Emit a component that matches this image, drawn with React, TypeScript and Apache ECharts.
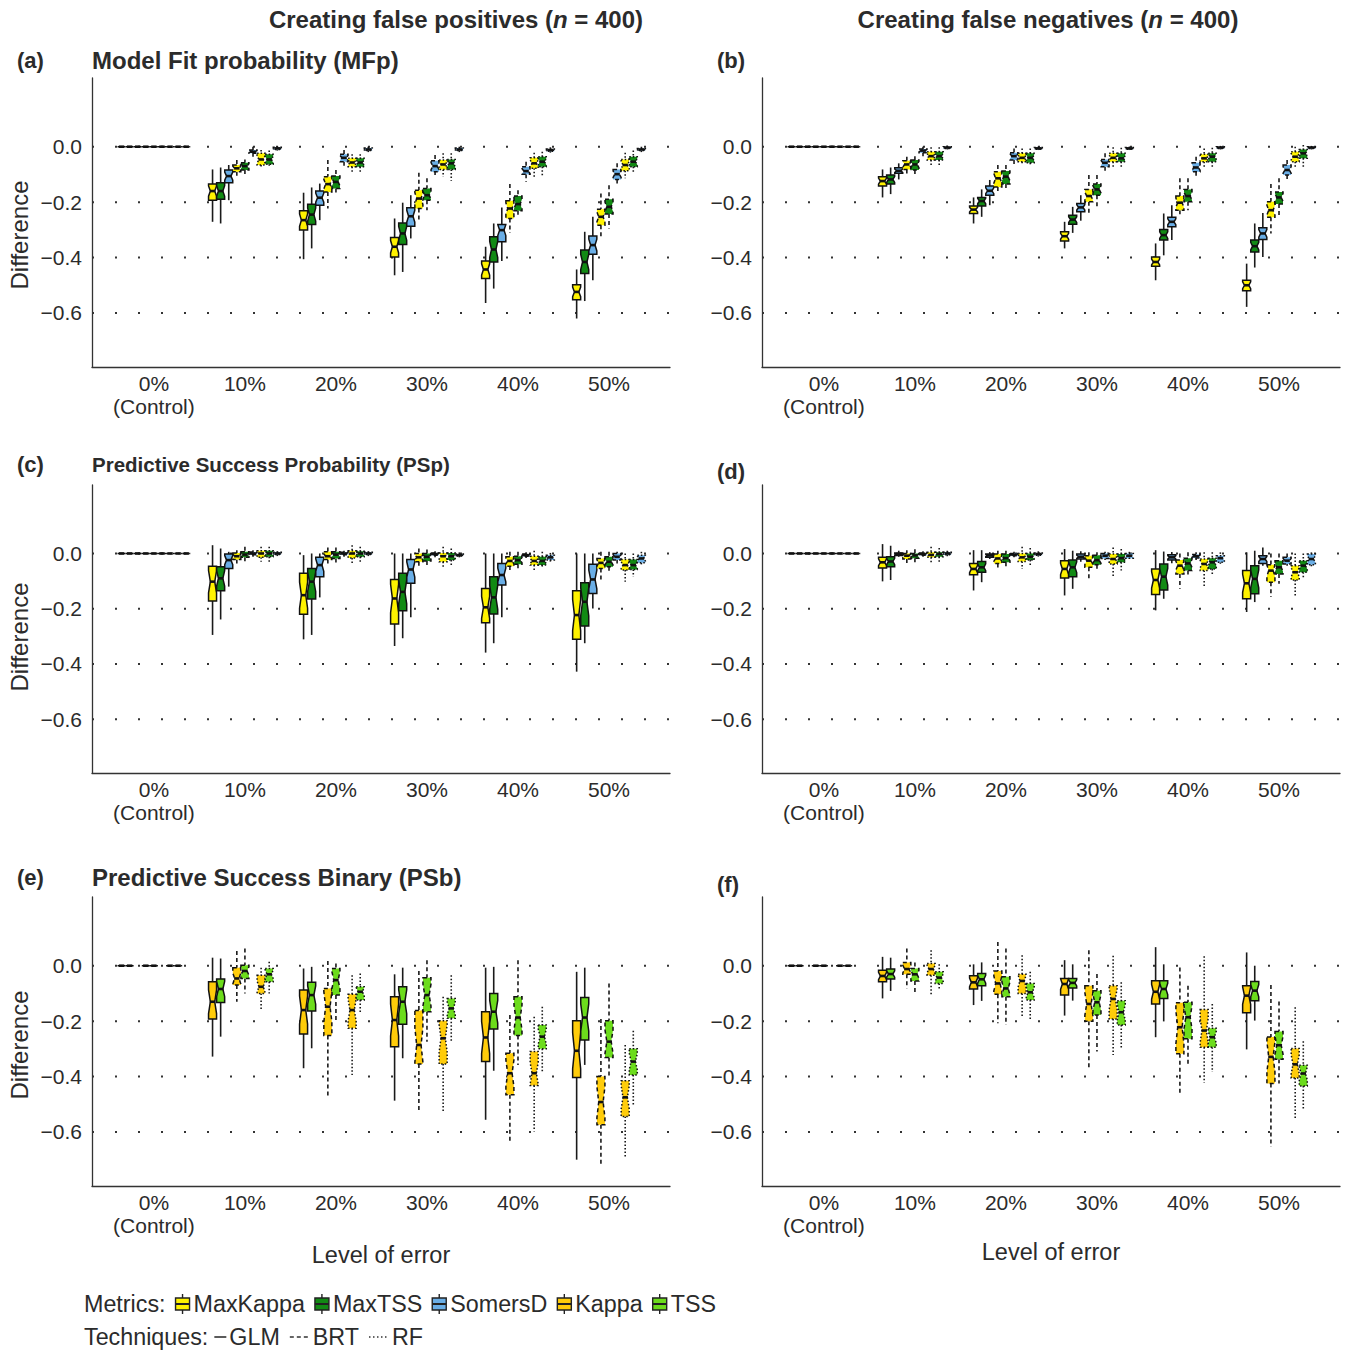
import React, { useEffect, useRef } from "react";
import * as echarts from "echarts";

// ---------- categories / labels ----------
const GROUPS = ["0%\n(Control)", "10%", "20%", "30%", "40%", "50%"];
const METRICS = ["MaxKappa", "MaxTSS", "SomersD", "Kappa", "TSS"];
const TECHNIQUES = ["GLM", "BRT", "RF"];
const Y_TICKS = [0, -0.2, -0.4, -0.6];

// ---------- data: levels 10%..50%, each [lowWhisker, q1, median, q3, highWhisker] ----------
// (a) MFp, false positives
const A_GLM_MK = [[-0.271, -0.193, -0.16, -0.135, -0.082], [-0.406, -0.301, -0.265, -0.231, -0.166], [-0.464, -0.398, -0.361, -0.328, -0.259], [-0.564, -0.476, -0.443, -0.412, -0.361], [-0.62, -0.552, -0.524, -0.498, -0.443]];
const A_GLM_MT = [[-0.277, -0.19, -0.16, -0.13, -0.075], [-0.367, -0.281, -0.245, -0.208, -0.147], [-0.452, -0.353, -0.313, -0.275, -0.202], [-0.512, -0.416, -0.371, -0.325, -0.277], [-0.557, -0.458, -0.416, -0.373, -0.307]];
const A_GLM_SD = [[-0.193, -0.13, -0.106, -0.084, -0.066], [-0.265, -0.211, -0.184, -0.16, -0.133], [-0.331, -0.287, -0.251, -0.22, -0.175], [-0.412, -0.343, -0.301, -0.281, -0.219], [-0.482, -0.388, -0.355, -0.322, -0.253]];
const A_BRT_MK = [[-0.108, -0.09, -0.078, -0.066, -0.048], [-0.223, -0.163, -0.135, -0.108, -0.048], [-0.271, -0.223, -0.187, -0.157, -0.094], [-0.311, -0.259, -0.223, -0.195, -0.135], [-0.331, -0.283, -0.253, -0.226, -0.169]];
const A_BRT_MT = [[-0.102, -0.084, -0.07, -0.058, -0.046], [-0.169, -0.151, -0.127, -0.106, -0.084], [-0.229, -0.193, -0.175, -0.151, -0.114], [-0.251, -0.231, -0.207, -0.178, -0.157], [-0.295, -0.243, -0.217, -0.19, -0.139]];
const A_BRT_SD = [[-0.036, -0.024, -0.018, -0.012, 0.0], [-0.072, -0.054, -0.04, -0.027, -0.012], [-0.102, -0.09, -0.07, -0.051, -0.03], [-0.127, -0.099, -0.088, -0.072, -0.054], [-0.135, -0.118, -0.099, -0.082, -0.06]];
const A_RF_MK = [[-0.078, -0.066, -0.046, -0.024, -0.012], [-0.096, -0.072, -0.057, -0.042, -0.027], [-0.108, -0.082, -0.064, -0.048, -0.024], [-0.108, -0.078, -0.06, -0.04, -0.022], [-0.114, -0.087, -0.066, -0.046, -0.022]];
const A_RF_MT = [[-0.075, -0.063, -0.046, -0.027, -0.014], [-0.096, -0.072, -0.057, -0.042, -0.027], [-0.123, -0.082, -0.06, -0.046, -0.024], [-0.108, -0.072, -0.054, -0.036, -0.018], [-0.096, -0.072, -0.054, -0.036, -0.014]];
const A_RF_SD = [[-0.014, -0.01, -0.006, -0.002, 0.0], [-0.02, -0.014, -0.01, -0.005, 0.0], [-0.02, -0.014, -0.01, -0.005, 0.0], [-0.022, -0.016, -0.012, -0.008, -0.002], [-0.02, -0.014, -0.01, -0.006, 0.0]];

// (b) MFp, false negatives
const B_GLM_MK = [[-0.183, -0.142, -0.124, -0.108, -0.082], [-0.277, -0.241, -0.227, -0.214, -0.183], [-0.367, -0.34, -0.323, -0.307, -0.271], [-0.482, -0.431, -0.416, -0.398, -0.349], [-0.578, -0.52, -0.5, -0.482, -0.422]];
const B_GLM_MT = [[-0.171, -0.135, -0.118, -0.102, -0.075], [-0.253, -0.214, -0.196, -0.183, -0.154], [-0.311, -0.28, -0.263, -0.247, -0.217], [-0.392, -0.337, -0.319, -0.299, -0.241], [-0.436, -0.38, -0.359, -0.337, -0.277]];
const B_GLM_SD = [[-0.118, -0.096, -0.087, -0.076, -0.06], [-0.211, -0.175, -0.159, -0.142, -0.12], [-0.267, -0.235, -0.219, -0.205, -0.175], [-0.337, -0.289, -0.271, -0.255, -0.211], [-0.398, -0.335, -0.313, -0.292, -0.239]];
const B_BRT_MK = [[-0.099, -0.082, -0.064, -0.051, -0.036], [-0.169, -0.145, -0.114, -0.09, -0.066], [-0.243, -0.199, -0.178, -0.154, -0.102], [-0.253, -0.229, -0.202, -0.178, -0.114], [-0.313, -0.255, -0.229, -0.199, -0.135]];
const B_BRT_MT = [[-0.099, -0.084, -0.064, -0.048, -0.034], [-0.157, -0.135, -0.108, -0.088, -0.066], [-0.226, -0.175, -0.154, -0.135, -0.102], [-0.229, -0.199, -0.178, -0.154, -0.114], [-0.251, -0.207, -0.183, -0.163, -0.114]];
const B_BRT_SD = [[-0.034, -0.022, -0.014, -0.008, 0.0], [-0.066, -0.048, -0.034, -0.022, -0.006], [-0.087, -0.072, -0.058, -0.046, -0.024], [-0.108, -0.09, -0.075, -0.058, -0.036], [-0.12, -0.102, -0.084, -0.066, -0.048]];
const B_RF_MK = [[-0.066, -0.048, -0.034, -0.018, -0.002], [-0.066, -0.054, -0.04, -0.024, -0.006], [-0.078, -0.054, -0.04, -0.024, -0.002], [-0.078, -0.054, -0.042, -0.027, -0.006], [-0.078, -0.054, -0.036, -0.018, 0.0]];
const B_RF_MT = [[-0.066, -0.048, -0.034, -0.018, -0.002], [-0.066, -0.058, -0.04, -0.024, -0.006], [-0.075, -0.054, -0.042, -0.024, -0.004], [-0.072, -0.054, -0.036, -0.024, -0.004], [-0.072, -0.042, -0.024, -0.01, 0.006]];
const B_RF_SD = [[-0.01, -0.006, -0.003, 0.0, 0.004], [-0.012, -0.009, -0.006, -0.003, 0.0], [-0.012, -0.009, -0.006, -0.003, 0.0], [-0.01, -0.006, -0.003, 0.0, 0.003], [-0.01, -0.006, -0.003, 0.0, 0.003]];

// (c) PSp, false positives
const C_GLM_MK = [[-0.295, -0.172, -0.102, -0.046, 0.03], [-0.311, -0.22, -0.151, -0.072, -0.006], [-0.335, -0.255, -0.163, -0.094, 0.0], [-0.359, -0.251, -0.195, -0.127, 0.0], [-0.428, -0.311, -0.223, -0.135, 0.0]];
const C_GLM_MT = [[-0.239, -0.135, -0.09, -0.048, 0.018], [-0.295, -0.165, -0.102, -0.054, 0.0], [-0.307, -0.207, -0.139, -0.072, 0.0], [-0.325, -0.219, -0.159, -0.084, 0.0], [-0.325, -0.263, -0.175, -0.106, 0.0]];
const C_GLM_SD = [[-0.12, -0.054, -0.024, -0.002, 0.006], [-0.159, -0.084, -0.042, -0.014, 0.0], [-0.231, -0.108, -0.058, -0.022, 0.0], [-0.231, -0.114, -0.078, -0.036, 0.0], [-0.199, -0.145, -0.094, -0.039, 0.0]];
const C_BRT_MK = [[-0.036, -0.022, -0.01, 0.002, 0.012], [-0.042, -0.022, -0.01, 0.006, 0.022], [-0.048, -0.03, -0.014, 0.0, 0.018], [-0.06, -0.046, -0.027, -0.012, 0.006], [-0.094, -0.054, -0.034, -0.018, 0.006]];
const C_BRT_MT = [[-0.03, -0.014, -0.004, 0.006, 0.024], [-0.034, -0.018, -0.004, 0.006, 0.022], [-0.048, -0.027, -0.012, 0.0, 0.014], [-0.054, -0.039, -0.024, -0.01, 0.006], [-0.072, -0.048, -0.03, -0.012, 0.006]];
const C_BRT_SD = [[-0.012, -0.005, 0.0, 0.005, 0.012], [-0.012, -0.005, 0.0, 0.004, 0.01], [-0.014, -0.006, -0.002, 0.002, 0.008], [-0.016, -0.01, -0.006, -0.002, 0.004], [-0.036, -0.024, -0.012, 0.0, 0.006]];
const C_RF_MK = [[-0.03, -0.014, 0.0, 0.01, 0.024], [-0.036, -0.016, 0.0, 0.01, 0.03], [-0.048, -0.03, -0.01, 0.002, 0.024], [-0.06, -0.042, -0.027, -0.01, 0.01], [-0.102, -0.06, -0.042, -0.022, 0.0]];
const C_RF_MT = [[-0.03, -0.012, 0.0, 0.01, 0.024], [-0.03, -0.012, 0.0, 0.008, 0.024], [-0.042, -0.024, -0.01, 0.002, 0.018], [-0.054, -0.042, -0.027, -0.012, 0.006], [-0.084, -0.058, -0.042, -0.022, 0.0]];
const C_RF_SD = [[-0.01, -0.004, 0.0, 0.004, 0.008], [-0.01, -0.004, 0.0, 0.004, 0.008], [-0.014, -0.009, -0.006, -0.002, 0.004], [-0.03, -0.024, -0.014, -0.006, 0.002], [-0.042, -0.034, -0.018, -0.006, 0.006]];

// (d) PSp, false negatives
const D_GLM_MK = [[-0.101, -0.053, -0.032, -0.014, 0.034], [-0.134, -0.077, -0.056, -0.036, 0.012], [-0.152, -0.089, -0.056, -0.026, 0.016], [-0.206, -0.149, -0.096, -0.056, 0.012], [-0.212, -0.164, -0.108, -0.062, 0.004]];
const D_GLM_MT = [[-0.096, -0.048, -0.029, -0.012, 0.028], [-0.104, -0.068, -0.05, -0.029, 0.012], [-0.128, -0.084, -0.05, -0.024, 0.01], [-0.164, -0.132, -0.084, -0.038, 0.007], [-0.176, -0.146, -0.092, -0.044, 0.01]];
const D_GLM_SD = [[-0.012, -0.007, -0.002, 0.002, 0.01], [-0.02, -0.014, -0.007, -0.002, 0.005], [-0.03, -0.02, -0.012, -0.002, 0.008], [-0.035, -0.024, -0.014, -0.005, 0.005], [-0.044, -0.036, -0.02, -0.008, 0.022]];
const D_BRT_MK = [[-0.036, -0.02, -0.008, 0.0, 0.012], [-0.056, -0.036, -0.018, -0.002, 0.01], [-0.098, -0.05, -0.026, -0.008, 0.004], [-0.128, -0.074, -0.044, -0.024, 0.0], [-0.158, -0.104, -0.062, -0.041, 0.0]];
const D_BRT_MT = [[-0.032, -0.017, -0.007, 0.0, 0.015], [-0.05, -0.032, -0.017, -0.002, 0.01], [-0.062, -0.041, -0.024, -0.006, 0.004], [-0.086, -0.062, -0.036, -0.017, 0.004], [-0.11, -0.074, -0.05, -0.026, 0.0]];
const D_BRT_SD = [[-0.012, -0.006, -0.002, 0.002, 0.008], [-0.014, -0.008, -0.004, 0.0, 0.006], [-0.024, -0.018, -0.008, 0.0, 0.006], [-0.024, -0.016, -0.01, -0.004, 0.004], [-0.044, -0.038, -0.026, -0.014, 0.0]];
const D_RF_MK = [[-0.038, -0.014, -0.005, 0.004, 0.024], [-0.056, -0.029, -0.014, 0.0, 0.024], [-0.086, -0.038, -0.02, -0.002, 0.022], [-0.122, -0.062, -0.038, -0.02, 0.004], [-0.158, -0.096, -0.068, -0.044, 0.0]];
const D_RF_MT = [[-0.034, -0.012, -0.002, 0.004, 0.02], [-0.048, -0.024, -0.012, 0.0, 0.02], [-0.062, -0.032, -0.017, -0.002, 0.016], [-0.08, -0.056, -0.032, -0.017, 0.004], [-0.092, -0.068, -0.044, -0.026, 0.0]];
const D_RF_SD = [[-0.01, -0.005, 0.0, 0.004, 0.01], [-0.012, -0.006, -0.002, 0.002, 0.008], [-0.02, -0.017, -0.008, 0.0, 0.006], [-0.04, -0.032, -0.017, -0.008, 0.004], [-0.05, -0.041, -0.02, -0.002, 0.004]];

// (e) PSb, false positives (Kappa, TSS)
const E_GLM_K = [[-0.328, -0.192, -0.13, -0.058, 0.029], [-0.37, -0.246, -0.16, -0.088, -0.01], [-0.487, -0.292, -0.196, -0.112, -0.031], [-0.556, -0.346, -0.259, -0.166, -0.007], [-0.7, -0.403, -0.307, -0.199, -0.022]];
const E_GLM_T = [[-0.256, -0.133, -0.084, -0.048, 0.026], [-0.298, -0.163, -0.106, -0.06, -0.004], [-0.334, -0.211, -0.13, -0.076, -0.007], [-0.379, -0.228, -0.166, -0.1, -0.004], [-0.358, -0.268, -0.187, -0.115, -0.007]];
const E_BRT_K = [[-0.13, -0.07, -0.046, -0.007, 0.053], [-0.472, -0.252, -0.148, -0.082, 0.017], [-0.526, -0.355, -0.286, -0.162, -0.019], [-0.64, -0.466, -0.388, -0.316, -0.178], [-0.718, -0.574, -0.492, -0.4, -0.192]];
const E_BRT_T = [[-0.1, -0.046, -0.019, 0.002, 0.062], [-0.202, -0.106, -0.052, -0.01, 0.008], [-0.274, -0.166, -0.106, -0.043, 0.02], [-0.358, -0.252, -0.187, -0.112, 0.02], [-0.406, -0.331, -0.274, -0.199, -0.064]];
const E_RF_K = [[-0.163, -0.1, -0.076, -0.034, -0.007], [-0.394, -0.226, -0.16, -0.103, -0.034], [-0.526, -0.355, -0.262, -0.199, -0.112], [-0.598, -0.432, -0.388, -0.31, -0.184], [-0.694, -0.544, -0.475, -0.415, -0.286]];
const E_RF_T = [[-0.1, -0.058, -0.031, -0.01, 0.014], [-0.172, -0.124, -0.094, -0.076, -0.028], [-0.274, -0.19, -0.154, -0.118, -0.034], [-0.388, -0.3, -0.256, -0.214, -0.148], [-0.502, -0.394, -0.346, -0.3, -0.235]];

// (f) PSb, false negatives (Kappa, TSS)
const F_GLM_K = [[-0.118, -0.058, -0.037, -0.016, 0.032], [-0.142, -0.084, -0.06, -0.036, 0.005], [-0.18, -0.106, -0.066, -0.046, 0.02], [-0.258, -0.138, -0.094, -0.054, 0.067], [-0.302, -0.17, -0.108, -0.072, 0.048]];
const F_GLM_T = [[-0.091, -0.048, -0.03, -0.012, 0.029], [-0.127, -0.072, -0.049, -0.028, 0.012], [-0.126, -0.08, -0.062, -0.046, 0.005], [-0.201, -0.118, -0.084, -0.054, 0.005], [-0.198, -0.126, -0.09, -0.057, 0.0]];
const F_BRT_K = [[-0.082, -0.031, -0.012, 0.012, 0.062], [-0.208, -0.103, -0.064, -0.019, 0.086], [-0.372, -0.2, -0.138, -0.072, 0.056], [-0.468, -0.318, -0.222, -0.134, -0.006], [-0.653, -0.425, -0.329, -0.257, -0.07]];
const F_BRT_T = [[-0.1, -0.055, -0.031, -0.01, 0.012], [-0.214, -0.112, -0.082, -0.04, 0.062], [-0.31, -0.178, -0.132, -0.09, -0.03], [-0.354, -0.264, -0.186, -0.132, -0.072], [-0.425, -0.338, -0.287, -0.237, -0.129]];
const F_RF_K = [[-0.103, -0.034, -0.012, 0.008, 0.056], [-0.184, -0.1, -0.055, -0.031, 0.038], [-0.322, -0.192, -0.12, -0.072, 0.036], [-0.422, -0.294, -0.234, -0.158, 0.034], [-0.557, -0.405, -0.356, -0.299, -0.15]];
const F_RF_T = [[-0.084, -0.064, -0.043, -0.022, 0.005], [-0.192, -0.124, -0.096, -0.064, -0.022], [-0.302, -0.214, -0.168, -0.126, -0.06], [-0.384, -0.294, -0.258, -0.226, -0.138], [-0.521, -0.434, -0.389, -0.359, -0.273]];

const CONTROL = [0, 0, 0, 0, 0];

// slot order within a level: GLM(m1,m2,m3), BRT(m1,m2,m3), RF(m1,m2,m3)
const PANELS = [
  { label: "(a)", title: "Model Fit probability (MFp)", binary: false, slots: [A_GLM_MK, A_GLM_MT, A_GLM_SD, A_BRT_MK, A_BRT_MT, A_BRT_SD, A_RF_MK, A_RF_MT, A_RF_SD] },
  { label: "(b)", title: "", binary: false, slots: [B_GLM_MK, B_GLM_MT, B_GLM_SD, B_BRT_MK, B_BRT_MT, B_BRT_SD, B_RF_MK, B_RF_MT, B_RF_SD] },
  { label: "(c)", title: "Predictive Success Probability (PSp)", binary: false, slots: [C_GLM_MK, C_GLM_MT, C_GLM_SD, C_BRT_MK, C_BRT_MT, C_BRT_SD, C_RF_MK, C_RF_MT, C_RF_SD] },
  { label: "(d)", title: "", binary: false, slots: [D_GLM_MK, D_GLM_MT, D_GLM_SD, D_BRT_MK, D_BRT_MT, D_BRT_SD, D_RF_MK, D_RF_MT, D_RF_SD] },
  { label: "(e)", title: "Predictive Success Binary (PSb)", binary: true, slots: [E_GLM_K, E_GLM_T, null, E_BRT_K, E_BRT_T, null, E_RF_K, E_RF_T, null] },
  { label: "(f)", title: "", binary: true, slots: [F_GLM_K, F_GLM_T, null, F_BRT_K, F_BRT_T, null, F_RF_K, F_RF_T, null] },
];

// ---------- styling / layout ----------
const FONT = '"Liberation Sans", Arial, Helvetica, sans-serif';
const COLORS = ["#FFF200", "#128A14", "#6AAEE6", "#FFCC0A", "#6CDC1C"];
const DASHES: any[] = ["solid", [4, 3], [1.5, 2]];
const COL_X = [92, 762];
const ROW_Y = [78, 485, 897];
const PLOT_W = 578;
const PLOT_H = [289, 288, 289];
const X_MIN = 0.32;
const X_MAX = 6.67;
const Y_MIN = -0.795;
const Y_MAX = 0.248;
const SLOT = 0.0889;
const BOX_W = 0.088;
const NOTCH = 0.32;
const TEXT_COLOR = "#2b2b2b";
const LEGEND_FONT = `23.3px ${FONT}`;

function renderBox(_params: any, api: any) {
  const x = api.value(0);
  const lo = api.value(1), q1 = api.value(2), med = api.value(3), q3 = api.value(4), hi = api.value(5);
  const ci = api.value(6), ti = api.value(7);
  const Y = (v: number) => api.coord([x, v])[1];
  const px = api.coord([x, med])[0];
  const hw = api.size([BOX_W, 0])[0] / 2;
  const iqr = q3 - q1;
  const yLo = Y(lo), yQ1 = Y(q1), yMed = Y(med), yQ3 = Y(q3), yHi = Y(hi);
  const yNHi = Y(Math.min(q3, med + NOTCH * iqr));
  const yNLo = Y(Math.max(q1, med - NOTCH * iqr));
  const xl = px - hw, xr = px + hw, ins = hw * 0.45;
  const dash = DASHES[ti];
  return {
    type: "group",
    children: [
      { type: "line", shape: { x1: px, y1: yHi, x2: px, y2: yQ3 }, style: { stroke: "#1a1a1a", lineWidth: 1.6, lineDash: dash } },
      { type: "line", shape: { x1: px, y1: yQ1, x2: px, y2: yLo }, style: { stroke: "#1a1a1a", lineWidth: 1.6, lineDash: dash } },
      {
        type: "polygon",
        shape: { points: [[xl, yQ3], [xr, yQ3], [xr, yNHi], [xr - ins, yMed], [xr, yNLo], [xr, yQ1], [xl, yQ1], [xl, yNLo], [xl + ins, yMed], [xl, yNHi]] },
        style: { fill: COLORS[ci], stroke: "#111", lineWidth: 1.5, lineDash: dash },
      },
      { type: "line", shape: { x1: xl + ins - 0.5, y1: yMed, x2: xr - ins + 0.5, y2: yMed }, style: { stroke: "#111", lineWidth: 2.6 } },
    ],
  };
}

function renderGrid(_params: any, api: any) {
  const v = api.value(0);
  const p1 = api.coord([X_MIN, v]);
  const p2 = api.coord([X_MAX, v]);
  return { type: "line", shape: { x1: p1[0], y1: p1[1], x2: p2[0], y2: p2[1] }, style: { stroke: "#333", lineWidth: 2, lineDash: [2, 21] } };
}

function boxData(panel: any) {
  const rows: number[][] = [];
  panel.slots.forEach((series: number[][] | null, k: number) => {
    if (!series) return;
    const metricIdx = (panel.binary ? 3 : 0) + (k % 3);
    const techIdx = Math.floor(k / 3);
    const levels = [CONTROL, ...series];
    levels.forEach((st, g) => {
      rows.push([g + 1 + (k - 4) * SLOT, st[0], st[1], st[2], st[3], st[4], metricIdx, techIdx]);
    });
  });
  return rows;
}

let measureCtx: CanvasRenderingContext2D | null = null;
function textWidth(text: string, font: string) {
  if (!measureCtx) measureCtx = document.createElement("canvas").getContext("2d");
  if (!measureCtx) return text.length * 12;
  measureCtx.font = font;
  return measureCtx.measureText(text).width;
}

function txt(x: number, y: number, text: string, font: string, align = "left", extra: any = {}) {
  return { type: "text", x, y, ...extra, style: { text, font, fill: TEXT_COLOR, align, verticalAlign: "middle" } };
}

function legendIcon(cx: number, cy: number, color: string) {
  return {
    type: "group",
    children: [
      { type: "line", shape: { x1: cx, y1: cy - 10, x2: cx, y2: cy - 6 }, style: { stroke: "#222", lineWidth: 1.4 } },
      { type: "line", shape: { x1: cx, y1: cy + 6, x2: cx, y2: cy + 10 }, style: { stroke: "#222", lineWidth: 1.4 } },
      { type: "rect", shape: { x: cx - 7, y: cy - 6, width: 14, height: 12 }, style: { fill: color, stroke: "#222", lineWidth: 1.4 } },
      { type: "line", shape: { x1: cx - 7, y1: cy, x2: cx + 7, y2: cy }, style: { stroke: "#222", lineWidth: 2 } },
    ],
  };
}

function legendElements() {
  const els: any[] = [];
  // metrics row
  let x = 84;
  const y1 = 1304;
  els.push(txt(x, y1, "Metrics:", LEGEND_FONT));
  x += textWidth("Metrics:", LEGEND_FONT);
  METRICS.forEach((m, i) => {
    x += 10;
    els.push(legendIcon(x + 7, y1, COLORS[i]));
    x += 14 + 4;
    els.push(txt(x, y1, m, LEGEND_FONT));
    x += textWidth(m, LEGEND_FONT);
  });
  // techniques row
  const y2 = 1337;
  x = 84;
  els.push(txt(x, y2, "Techniques:", LEGEND_FONT));
  x += textWidth("Techniques:", LEGEND_FONT);
  const lineLens = [12, 20, 20];
  TECHNIQUES.forEach((t, i) => {
    x += i === 0 ? 6 : 10;
    els.push({ type: "line", shape: { x1: x, y1: y2, x2: x + lineLens[i], y2: y2 }, style: { stroke: "#333", lineWidth: 1.6, lineDash: i === 0 ? "solid" : i === 1 ? [4, 3] : [1.5, 2.5] } });
    x += lineLens[i] + 3;
    els.push(txt(x, y2, t, LEGEND_FONT));
    x += textWidth(t, LEGEND_FONT);
  });
  return els;
}

function buildOption() {
  const grid: any[] = [], xAxis: any[] = [], yAxis: any[] = [], series: any[] = [];
  PANELS.forEach((p, i) => {
    const col = i % 2, row = Math.floor(i / 2);
    grid.push({ left: COL_X[col], top: ROW_Y[row], width: PLOT_W, height: PLOT_H[row] });
    xAxis.push({
      gridIndex: i, type: "value", min: X_MIN, max: X_MAX,
      axisLine: { show: true, onZero: false, lineStyle: { color: "#333", width: 1.3 } },
      axisTick: { show: false }, splitLine: { show: false },
      axisLabel: { customValues: [1, 2, 3, 4, 5, 6], formatter: (v: number) => GROUPS[Math.round(v) - 1], fontSize: 21, fontFamily: FONT, color: TEXT_COLOR, lineHeight: 23, margin: 5 },
    });
    yAxis.push({
      gridIndex: i, type: "value", min: Y_MIN, max: Y_MAX,
      axisLine: { show: true, onZero: false, lineStyle: { color: "#333", width: 1.3 } },
      axisTick: { show: false }, splitLine: { show: false },
      axisLabel: { customValues: Y_TICKS, formatter: (v: number) => (v < -1e-9 ? "\u2212" : "") + Math.abs(v).toFixed(1), fontSize: 21, fontFamily: FONT, color: TEXT_COLOR, margin: 10 },
    });
    series.push({ type: "custom", xAxisIndex: i, yAxisIndex: i, z: 1, silent: true, renderItem: renderGrid, data: Y_TICKS.map((v) => [v]), encode: { y: 0 } });
    series.push({ type: "custom", xAxisIndex: i, yAxisIndex: i, z: 2, silent: true, renderItem: renderBox, data: boxData(p), encode: { x: 0, y: [1, 2, 3, 4, 5] } });
  });

  const BOLD24 = `bold 24px ${FONT}`;
  const header = (x: number, words: string) => ({
    type: "text", x, y: 19,
    style: {
      text: `{b|Creating false ${words} (}{i|n}{b| = 400)}`, align: "center", verticalAlign: "middle",
      rich: { b: { font: BOLD24, fill: TEXT_COLOR }, i: { font: `italic bold 24px ${FONT}`, fill: TEXT_COLOR } },
    },
  });
  const graphic: any[] = [
    header(456, "positives"),
    header(1048, "negatives"),
    txt(17, 60, PANELS[0].label, `bold 22px ${FONT}`),
    txt(92, 60, PANELS[0].title, BOLD24),
    txt(717, 60, PANELS[1].label, `bold 22px ${FONT}`),
    txt(17, 464, PANELS[2].label, `bold 22px ${FONT}`),
    txt(92, 464, PANELS[2].title, `bold 20.5px ${FONT}`),
    txt(717, 471, PANELS[3].label, `bold 22px ${FONT}`),
    txt(17, 877, PANELS[4].label, `bold 22px ${FONT}`),
    txt(92, 877, PANELS[4].title, BOLD24),
    txt(717, 884, PANELS[5].label, `bold 22px ${FONT}`),
    txt(19, 235, "Difference", `24px ${FONT}`, "center", { rotation: Math.PI / 2 }),
    txt(19, 637, "Difference", `24px ${FONT}`, "center", { rotation: Math.PI / 2 }),
    txt(19, 1045, "Difference", `24px ${FONT}`, "center", { rotation: Math.PI / 2 }),
    txt(381, 1255, "Level of error", `23.5px ${FONT}`, "center"),
    txt(1051, 1252, "Level of error", `23.5px ${FONT}`, "center"),
    ...legendElements(),
  ];

  return { animation: false, backgroundColor: "#ffffff", grid, xAxis, yAxis, series, graphic };
}

export default function App() {
  const ref = useRef<HTMLDivElement>(null);
  useEffect(() => {
    document.body.style.margin = "0";
    const chart = echarts.init(ref.current!, null, { renderer: "svg" });
    chart.setOption(buildOption() as any);
    return () => chart.dispose();
  }, []);
  return <div ref={ref} style={{ width: 1346, height: 1352 }} />;
}
